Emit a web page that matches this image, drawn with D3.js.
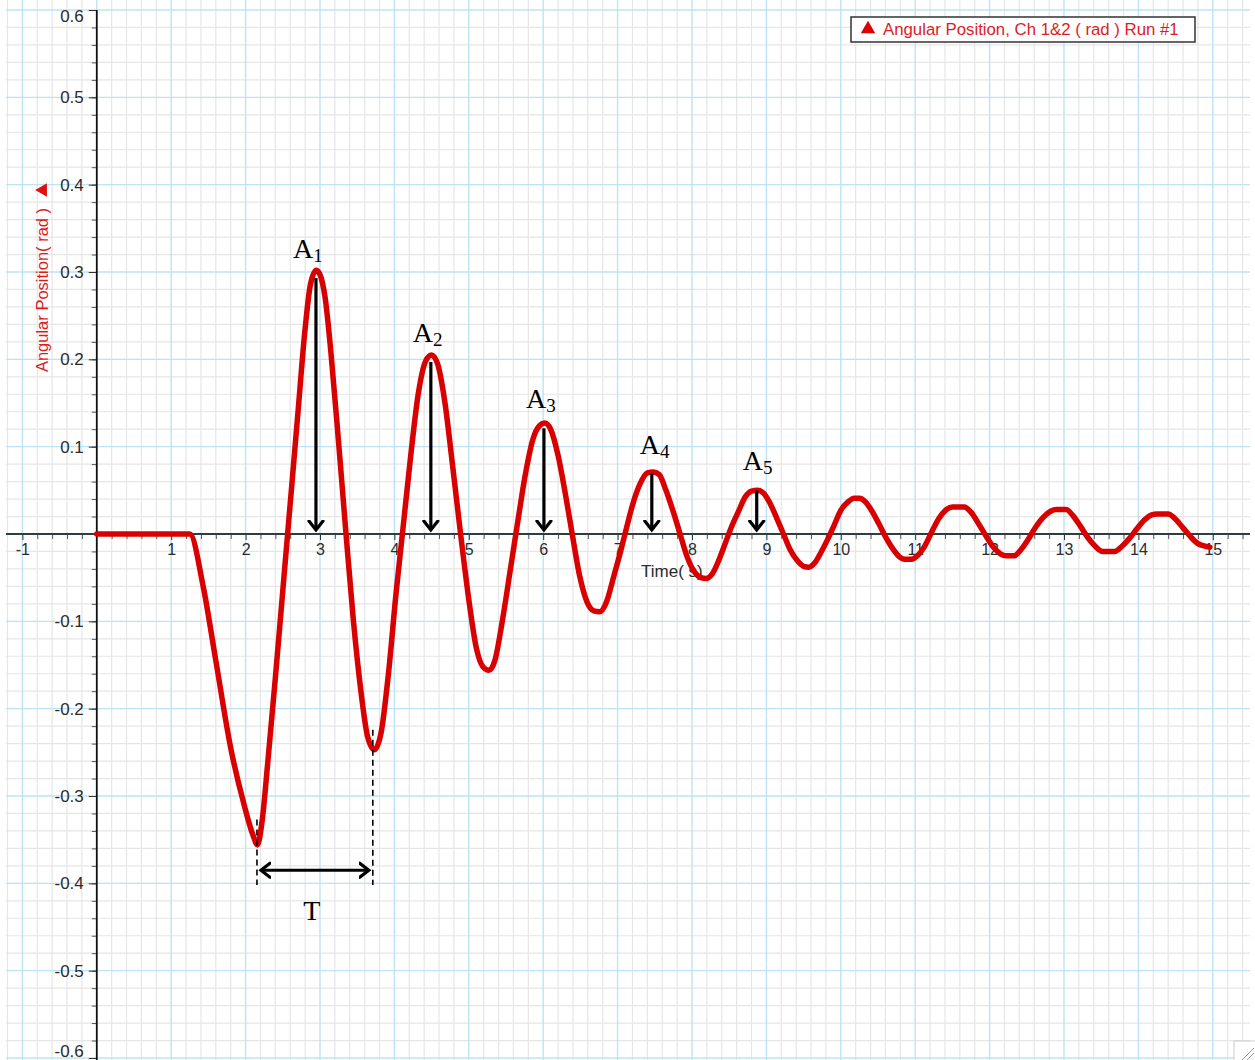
<!DOCTYPE html>
<html>
<head>
<meta charset="utf-8">
<script src="https://cdn.jsdelivr.net/npm/d3@7"></script>
<style>
  html, body { margin: 0; padding: 0; background: #fff; }
  svg { display: block; }
</style>
</head>
<body>
<script>
// ---- data ----
const times = [0, 1.25, 1.43, 1.60, 1.80, 1.98, 2.10, 2.16, 2.22, 2.30, 2.40, 2.50, 2.60, 2.70, 2.80, 2.87, 2.95, 3.00, 3.07, 3.15, 3.25, 3.35, 3.45, 3.55, 3.64, 3.73, 3.82, 3.92, 4.02, 4.12, 4.22, 4.32, 4.42, 4.50, 4.58, 4.68, 4.78, 4.89, 5.00, 5.10, 5.19, 5.27, 5.35, 5.45, 5.56, 5.66, 5.76, 5.86, 5.95, 6.02, 6.10, 6.20, 6.30, 6.39, 6.49, 6.59, 6.68, 6.76, 6.85, 6.95, 7.04, 7.12, 7.20, 7.30, 7.40, 7.48, 7.56, 7.65, 7.75, 7.84, 7.93, 8.03, 8.12, 8.19, 8.27, 8.37, 8.45, 8.53, 8.62, 8.72, 8.80, 8.88, 8.96, 9.05, 9.14, 9.23, 9.32, 9.42, 9.50, 9.57, 9.65, 9.74, 9.83, 9.91, 10.00, 10.10, 10.18, 10.25, 10.33, 10.42, 10.51, 10.60, 10.70, 10.80, 10.86, 10.95, 11.03, 11.12, 11.22, 11.32, 11.42, 11.50, 11.66, 11.75, 11.85, 11.95, 12.05, 12.15, 12.22, 12.33, 12.42, 12.52, 12.62, 12.72, 12.82, 12.90, 13.03, 13.12, 13.22, 13.32, 13.42, 13.52, 13.68, 13.78, 13.88, 13.98, 14.08, 14.18, 14.25, 14.40, 14.50, 14.60, 14.70, 14.80, 14.90, 14.96];
const angles = [0, 0, -0.060, -0.145, -0.245, -0.310, -0.345, -0.356, -0.330, -0.260, -0.165, -0.065, 0.035, 0.135, 0.235, 0.285, 0.302, 0.297, 0.270, 0.205, 0.105, 0, -0.100, -0.180, -0.232, -0.247, -0.228, -0.160, -0.070, 0.010, 0.090, 0.160, 0.198, 0.205, 0.195, 0.150, 0.080, 0, -0.075, -0.130, -0.152, -0.156, -0.145, -0.100, -0.040, 0.015, 0.068, 0.108, 0.124, 0.127, 0.120, 0.090, 0.045, 0, -0.048, -0.078, -0.088, -0.089, -0.078, -0.048, -0.020, 0.007, 0.033, 0.057, 0.070, 0.071, 0.068, 0.050, 0.025, 0, -0.025, -0.043, -0.050, -0.051, -0.046, -0.028, -0.010, 0.008, 0.025, 0.043, 0.049, 0.050, 0.047, 0.035, 0.018, 0, -0.018, -0.031, -0.037, -0.038, -0.033, -0.020, -0.005, 0.010, 0.027, 0.037, 0.041, 0.041, 0.037, 0.026, 0.012, -0.003, -0.017, -0.027, -0.029, -0.029, -0.025, -0.015, 0.002, 0.018, 0.028, 0.031, 0.031, 0.025, 0.012, -0.002, -0.015, -0.023, -0.025, -0.025, -0.018, -0.006, 0.008, 0.019, 0.026, 0.028, 0.028, 0.021, 0.009, -0.004, -0.014, -0.020, -0.020, -0.014, -0.005, 0.006, 0.016, 0.022, 0.023, 0.023, 0.017, 0.007, -0.003, -0.011, -0.014, -0.015];

const xTickLabels = [-1, 1, 2, 3, 4, 5, 6, 7, 8, 9, 10, 11, 12, 13, 14, 15];
const yTickLabels = [0.6, 0.5, 0.4, 0.3, 0.2, 0.1, -0.1, -0.2, -0.3, -0.4, -0.5, -0.6];

const seriesName = "Angular Position, Ch 1&2 ( rad ) Run #1";
const yTitle = "Angular Position( rad )";
const xTitle = "Time( s)";

// annotations: peaks (time, amplitude)
const peakLabels = ["1", "2", "3", "4", "5"];
const peakTimes = [2.946, 4.49, 6.01, 7.46, 8.87];
const peakValues = [0.293, 0.197, 0.121, 0.069, 0.050];
// period marker
const periodStart = 2.153, periodEnd = 3.71;

// ---- layout ----
const W = 1255, H = 1060;
const x = d3.scaleLinear().domain([-1.2, 15.5]).range([7.5, 1250]);
const y = d3.scaleLinear().domain([0.6, -0.6]).range([10, 1058]);

const svg = d3.select("body").append("svg").attr("width", W).attr("height", H);

const defs = svg.append("defs");
defs.append("marker").attr("id", "chev").attr("viewBox", "-10 -10 20 20")
  .attr("markerWidth", 20).attr("markerHeight", 20).attr("markerUnits", "userSpaceOnUse")
  .attr("orient", "auto-start-reverse").attr("refX", 0).attr("refY", 0)
  .append("path").attr("d", "M-9,-7 L0,0 L-9,7").attr("fill", "none")
  .attr("stroke", "#000").attr("stroke-width", 3.2).attr("stroke-linecap", "round").attr("stroke-linejoin", "miter");

// grid
const gx0 = 6, gx1 = 1250, gy0 = 0, gy1 = 1060;
const grid = svg.append("g");
const minorX = d3.range(-6, 78).map(i => i * 0.2).filter(v => Math.abs(v - Math.round(v)) > 1e-6);
const minorY = d3.range(-30, 31).map(i => i * 0.02).filter(v => Math.abs(v * 10 - Math.round(v * 10)) > 1e-6);
grid.selectAll(".mx").data(minorX).enter().append("line")
  .attr("x1", d => x(d)).attr("x2", d => x(d)).attr("y1", gy0).attr("y2", gy1)
  .attr("stroke", "#e6e6e6").attr("stroke-width", 1.2);
grid.selectAll(".my").data(minorY).enter().append("line")
  .attr("y1", d => y(d)).attr("y2", d => y(d)).attr("x1", gx0).attr("x2", gx1)
  .attr("stroke", "#e6e6e6").attr("stroke-width", 1.2);
const majorX = d3.range(-1, 16);
const majorY = d3.range(-6, 7).map(i => i / 10);
grid.selectAll(".Mx").data(majorX).enter().append("line")
  .attr("x1", d => x(d)).attr("x2", d => x(d)).attr("y1", gy0).attr("y2", gy1)
  .attr("stroke", "#bde3f4").attr("stroke-width", 1.4);
grid.selectAll(".My").data(majorY).enter().append("line")
  .attr("y1", d => y(d)).attr("y2", d => y(d)).attr("x1", gx0).attr("x2", gx1)
  .attr("stroke", "#bde3f4").attr("stroke-width", 1.4);

// axes
const axisFont = "'Liberation Sans', Arial, sans-serif";
const hyphenFmt = f => d => d3.format(f)(d).replace("\u2212", "-");
const yAxisMinor = d3.axisLeft(y).tickValues(minorY.concat(majorY)).tickSize(5).tickFormat("");
svg.append("g").attr("transform", `translate(${x(0)},0)`).call(yAxisMinor)
  .call(g => g.select(".domain").remove())
  .selectAll("line").attr("stroke", "#555");
const yAxis = d3.axisLeft(y).tickValues(yTickLabels).tickSize(8).tickPadding(5).tickFormat(hyphenFmt(".1f"));
const gy = svg.append("g").attr("transform", `translate(${x(0)},0)`).call(yAxis);
gy.select(".domain").remove();
gy.selectAll("line").attr("stroke", "#333");
gy.selectAll("text").attr("font-family", axisFont).attr("font-size", 17).attr("fill", "#2b2b2b")
  .attr("dy", d => d === 0.6 ? "0.7em" : d === -0.6 ? "-0.1em" : "0.32em");
svg.append("line").attr("x1", x(0)).attr("x2", x(0)).attr("y1", y(0.6)).attr("y2", gy1)
  .attr("stroke", "#111").attr("stroke-width", 1.8);

const xAxisMinor = d3.axisBottom(x).tickValues(minorX.filter(v => v > -1.2 && v < 15.5)).tickSize(5).tickFormat("");
svg.append("g").attr("transform", `translate(0,${y(0)})`).call(xAxisMinor)
  .call(g => g.select(".domain").remove())
  .selectAll("line").attr("stroke", "#555");
const xAxis = d3.axisBottom(x).tickValues(xTickLabels).tickSize(6).tickPadding(4).tickFormat(hyphenFmt("d"));
const gxa = svg.append("g").attr("transform", `translate(0,${y(0)})`).call(xAxis);
gxa.select(".domain").remove();
gxa.selectAll("line").attr("stroke", "#333");
gxa.selectAll("text").attr("font-family", axisFont).attr("font-size", 16).attr("fill", "#2b2b2b");
svg.append("line").attr("x1", gx0).attr("x2", gx1).attr("y1", y(0)).attr("y2", y(0))
  .attr("stroke", "#2c3e40").attr("stroke-width", 1.8);

// axis titles
svg.append("text").attr("x", 641).attr("y", 577).attr("font-family", axisFont)
  .attr("font-size", 17).attr("fill", "#2b2b2b").text(xTitle);
const yt = svg.append("g").attr("transform", "translate(48,290) rotate(-90)");
yt.append("text").attr("text-anchor", "middle").attr("font-family", axisFont)
  .attr("font-size", 16.5).attr("fill", "#dd1c1c").text(yTitle);
yt.append("path").attr("d", d3.symbol(d3.symbolTriangle, 80)()).attr("transform", "translate(100,-5)")
  .attr("fill", "#dd1111");

// series line
const data = times.map((t, i) => ({ t, v: angles[i] }));
const line = d3.line().x(d => x(d.t)).y(d => y(d.v)).curve(d3.curveMonotoneX);
svg.append("path").datum(data).attr("d", line).attr("fill", "none")
  .attr("stroke", "#d80000").attr("stroke-width", 5.5).attr("stroke-linejoin", "round").attr("stroke-linecap", "round");

// annotations: amplitude arrows
const serif = "'Liberation Serif', 'Times New Roman', serif";
const labelShift = [-23, -18, -18, -12, -14];
peakTimes.forEach((t, i) => {
  svg.append("line").attr("x1", x(t)).attr("x2", x(t)).attr("y1", y(peakValues[i])).attr("y2", y(0) - 4)
    .attr("stroke", "#000").attr("stroke-width", 3.2).attr("marker-end", "url(#chev)");
  const tx = svg.append("text").attr("x", x(t) + labelShift[i]).attr("y", y(peakValues[i]) - 20)
    .attr("font-family", serif).attr("font-size", 28).attr("fill", "#000");
  tx.append("tspan").text("A");
  tx.append("tspan").attr("font-size", 19).attr("dy", 4).text(peakLabels[i]);
});

// period marker
svg.append("line").attr("x1", x(periodStart)).attr("x2", x(periodStart)).attr("y1", y(-0.327)).attr("y2", y(-0.402))
  .attr("stroke", "#000").attr("stroke-width", 1.6).attr("stroke-dasharray", "6,4");
svg.append("line").attr("x1", x(periodEnd)).attr("x2", x(periodEnd)).attr("y1", y(-0.224)).attr("y2", y(-0.402))
  .attr("stroke", "#000").attr("stroke-width", 1.6).attr("stroke-dasharray", "6,4");
svg.append("line").attr("x1", x(periodStart) + 4).attr("x2", x(periodEnd) - 4).attr("y1", y(-0.385)).attr("y2", y(-0.385))
  .attr("stroke", "#000").attr("stroke-width", 3.2).attr("marker-start", "url(#chev)").attr("marker-end", "url(#chev)");
svg.append("text").attr("x", (x(periodStart) + x(periodEnd)) / 2 - 3).attr("y", 920).attr("text-anchor", "middle")
  .attr("font-family", serif).attr("font-size", 28).attr("fill", "#000").text("T");

// legend
const lg = svg.append("g").attr("transform", "translate(851,17)");
lg.append("rect").attr("width", 344).attr("height", 25).attr("fill", "#fff")
  .attr("stroke", "#333").attr("stroke-width", 1.5);
lg.append("path").attr("d", d3.symbol(d3.symbolTriangle, 90)()).attr("transform", "translate(17,12)").attr("fill", "#dd0000");
lg.append("text").attr("x", 32).attr("y", 18).attr("font-family", axisFont).attr("font-size", 16.8)
  .attr("fill", "#dd1c24").text(seriesName);

// resize grip
const rg = svg.append("g").attr("transform", "translate(1234,1041)");
rg.append("rect").attr("width", 22).attr("height", 20).attr("fill", "#fff").attr("stroke", "#ccc");
rg.append("line").attr("x1", 8).attr("y1", 19).attr("x2", 20).attr("y2", 7).attr("stroke", "#999");
rg.append("line").attr("x1", 13).attr("y1", 19).attr("x2", 20).attr("y2", 12).attr("stroke", "#999");
</script>
</body>
</html>
